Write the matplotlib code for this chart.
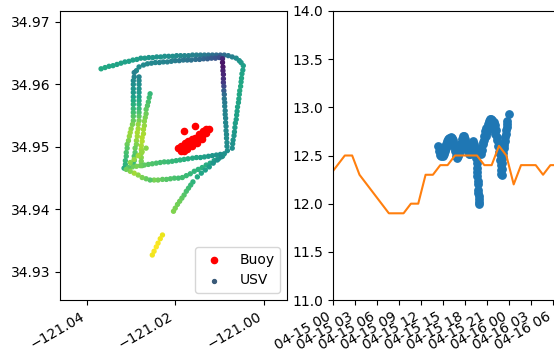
import numpy as np
import pandas as pd
import matplotlib
matplotlib.use("Agg")
import matplotlib.pyplot as plt
import matplotlib.dates as mdates

# ---------------- data ----------------
# Buoy positions
buoy_lon = [-121.0193, -121.0186, -121.0186, -121.0180, -121.0177, -121.0171, -121.0171,
            -121.0164, -121.0161, -121.0157, -121.0155, -121.0148, -121.0146, -121.0139,
            -121.0137, -121.0130, -121.0130, -121.0123, -121.0180, -121.0173, -121.0161,
            -121.0150, -121.0139, -121.0180, -121.0155]
buoy_lat = [34.9498, 34.9501, 34.9494, 34.9499, 34.9506, 34.9502, 34.9509,
            34.9506, 34.9512, 34.9509, 34.9515, 34.9514, 34.9520, 34.9518,
            34.9525, 34.9523, 34.9529, 34.9528, 34.9493, 34.9496, 34.9501,
            34.9506, 34.9512, 34.9526, 34.9533]

# USV track, one list per leg
outer_lon = [-121.0368, -121.0359, -121.0350, -121.0341, -121.0332, -121.0323, -121.0314,
             -121.0305, -121.0296, -121.0287,
             -121.0278, -121.0269, -121.0260, -121.0251, -121.0242, -121.0233, -121.0224,
             -121.0215, -121.0206, -121.0197, -121.0188, -121.0179, -121.0170, -121.0161,
             -121.0152, -121.0143, -121.0134, -121.0125, -121.0116, -121.0107, -121.0098,
             -121.0089, -121.0080, -121.0071, -121.0062, -121.0055, -121.0051, -121.0046,
             -121.0047, -121.0049, -121.0050, -121.0051, -121.0052, -121.0054, -121.0055,
             -121.0056, -121.0057, -121.0059, -121.0060, -121.0061, -121.0062, -121.0064,
             -121.0065, -121.0066, -121.0067, -121.0069, -121.0070, -121.0071]
outer_lat = [34.9625, 34.9627, 34.9629, 34.9630, 34.9632, 34.9634, 34.9636,
             34.9637, 34.9639, 34.9640,
             34.9642, 34.9642, 34.9643, 34.9643, 34.9644, 34.9644, 34.9645,
             34.9645, 34.9645, 34.9646, 34.9646, 34.9646, 34.9646, 34.9647,
             34.9647, 34.9647, 34.9647, 34.9647, 34.9647, 34.9647, 34.9647,
             34.9647, 34.9646, 34.9644, 34.9642, 34.9638, 34.9635, 34.9630,
             34.9623, 34.9617, 34.9610, 34.9604, 34.9597, 34.9590, 34.9584,
             34.9577, 34.9571, 34.9564, 34.9557, 34.9551, 34.9544, 34.9538,
             34.9531, 34.9524, 34.9518, 34.9511, 34.9505, 34.9498]
outer_temp = [12.56, 12.56, 12.55, 12.55, 12.54, 12.54, 12.53, 12.53, 12.52, 12.52,
              12.50, 12.50, 12.49, 12.49, 12.48, 12.48, 12.47, 12.46, 12.46, 12.45,
              12.44, 12.43, 12.42, 12.41, 12.40, 12.39, 12.38, 12.36, 12.34, 12.32, 12.30,
              12.32, 12.36, 12.40, 12.44, 12.47, 12.50, 12.52,
              12.53, 12.54, 12.55, 12.55, 12.56, 12.56, 12.55, 12.55, 12.54, 12.54,
              12.53, 12.53, 12.52, 12.52, 12.51, 12.50, 12.49, 12.48, 12.47, 12.46]

inner_lon = [-121.0288, -121.0282, -121.0272, -121.0263, -121.0254, -121.0245, -121.0236,
             -121.0227, -121.0218, -121.0209, -121.0200, -121.0191, -121.0182, -121.0173,
             -121.0164, -121.0154, -121.0145, -121.0136, -121.0127, -121.0118, -121.0109,
             -121.0100,
             -121.0093, -121.0093, -121.0092, -121.0092, -121.0091, -121.0091, -121.0091,
             -121.0090, -121.0090, -121.0089, -121.0089, -121.0088, -121.0088, -121.0087,
             -121.0087, -121.0086, -121.0086, -121.0085, -121.0085, -121.0084, -121.0084,
             -121.0083, -121.0083, -121.0082]
inner_lat = [34.9622, 34.9628, 34.9631, 34.9633, 34.9634, 34.9635, 34.9635,
             34.9636, 34.9636, 34.9637, 34.9638, 34.9638, 34.9639, 34.9639,
             34.9639, 34.9640, 34.9640, 34.9641, 34.9641, 34.9642, 34.9642,
             34.9643,
             34.9641, 34.9635, 34.9628, 34.9622, 34.9616, 34.9609, 34.9603,
             34.9597, 34.9590, 34.9584, 34.9577, 34.9571, 34.9565, 34.9558,
             34.9552, 34.9546, 34.9539, 34.9533, 34.9526, 34.9520, 34.9514,
             34.9507, 34.9501, 34.9494]
inner_temp = [12.45, 12.45, 12.44, 12.44, 12.43, 12.43, 12.42, 12.42, 12.41, 12.40,
              12.39, 12.38, 12.37, 12.36, 12.35, 12.34, 12.32, 12.30, 12.28, 12.26,
              12.24, 12.22,
              12.10, 12.05, 12.05, 12.08, 12.10, 12.12, 12.15, 12.20, 12.26, 12.32,
              12.36, 12.38, 12.40, 12.41, 12.42, 12.42, 12.43, 12.43, 12.44, 12.44,
              12.45, 12.45, 12.45, 12.46]

left_lon = [-121.0293, -121.0293, -121.0295, -121.0295, -121.0295, -121.0295, -121.0295,
            -121.0295, -121.0295, -121.0295, -121.0295, -121.0295, -121.0295, -121.0297,
            -121.0300, -121.0302, -121.0304, -121.0306, -121.0309, -121.0309, -121.0311,
            -121.0311, -121.0313, -121.0313, -121.0316,
            -121.0282, -121.0282, -121.0282, -121.0282, -121.0282, -121.0282, -121.0282,
            -121.0282, -121.0282, -121.0282, -121.0282, -121.0282, -121.0284, -121.0284,
            -121.0286, -121.0286, -121.0288, -121.0288, -121.0291, -121.0291, -121.0293,
            -121.0293, -121.0295]
left_lat = [34.9619, 34.9612, 34.9606, 34.9600, 34.9593, 34.9587, 34.9580,
            34.9574, 34.9568, 34.9561, 34.9555, 34.9549, 34.9542, 34.9536,
            34.9529, 34.9523, 34.9517, 34.9510, 34.9504, 34.9498, 34.9491,
            34.9485, 34.9478, 34.9472, 34.9466,
            34.9612, 34.9606, 34.9600, 34.9593, 34.9587, 34.9580, 34.9574,
            34.9568, 34.9561, 34.9555, 34.9549, 34.9542, 34.9536, 34.9529,
            34.9523, 34.9517, 34.9510, 34.9504, 34.9498, 34.9491, 34.9485,
            34.9478, 34.9472]
left_temp = [12.40, 12.42, 12.44, 12.46, 12.48, 12.50, 12.53, 12.56, 12.59, 12.62,
             12.65, 12.68, 12.71, 12.74, 12.77, 12.79, 12.78, 12.75, 12.72, 12.69,
             12.66, 12.64, 12.62, 12.60, 12.58,
             12.42, 12.44, 12.46, 12.48, 12.50, 12.53, 12.56, 12.59, 12.62, 12.66,
             12.70, 12.74, 12.78, 12.80, 12.81, 12.80, 12.78, 12.75, 12.72, 12.69,
             12.67, 12.65, 12.63]

spike_lon = [-121.0257, -121.0259, -121.0261, -121.0263, -121.0266, -121.0266, -121.0268,
             -121.0270, -121.0270, -121.0272, -121.0272, -121.0275, -121.0275, -121.0277,
             -121.0277, -121.0277, -121.0277, -121.0277, -121.0275]
spike_lat = [34.9585, 34.9579, 34.9572, 34.9566, 34.9560, 34.9553, 34.9547,
             34.9541, 34.9534, 34.9528, 34.9521, 34.9515, 34.9509, 34.9502,
             34.9496, 34.9490, 34.9483, 34.9477, 34.9470]
spike_temp = [12.62, 12.64, 12.66, 12.68, 12.70, 12.72, 12.74, 12.76, 12.78, 12.80,
              12.81, 12.82, 12.82, 12.81, 12.80, 12.78, 12.76, 12.74, 12.71]

bottom_lon = [-121.0089, -121.0098, -121.0107, -121.0116, -121.0125, -121.0134, -121.0143,
              -121.0152, -121.0161, -121.0171, -121.0180, -121.0189, -121.0198, -121.0207,
              -121.0216, -121.0225, -121.0234, -121.0243, -121.0252, -121.0261, -121.0270,
              -121.0279, -121.0288, -121.0297, -121.0306,
              -121.0093, -121.0102, -121.0112, -121.0121, -121.0130, -121.0139, -121.0148,
              -121.0157, -121.0166, -121.0175, -121.0184, -121.0193, -121.0202, -121.0211,
              -121.0220, -121.0229, -121.0239, -121.0248,
              -121.0302, -121.0293, -121.0284, -121.0275, -121.0266,
              -121.0257, -121.0266, -121.0275, -121.0284, -121.0293, -121.0302, -121.0311]
bottom_lat = [34.9489, 34.9488, 34.9487, 34.9486, 34.9485, 34.9484, 34.9483,
              34.9483, 34.9482, 34.9481, 34.9480, 34.9479, 34.9478, 34.9477,
              34.9476, 34.9476, 34.9475, 34.9474, 34.9473, 34.9472, 34.9471,
              34.9470, 34.9469, 34.9468, 34.9467,
              34.9485, 34.9481, 34.9478, 34.9474, 34.9471, 34.9467, 34.9464,
              34.9461, 34.9457, 34.9454, 34.9451, 34.9450, 34.9450, 34.9449,
              34.9448, 34.9448, 34.9447, 34.9447,
              34.9475, 34.9480, 34.9486, 34.9492, 34.9498,
              34.9447, 34.9449, 34.9451, 34.9455, 34.9458, 34.9461, 34.9464]
bottom_temp = [12.46, 12.47, 12.48, 12.49, 12.50, 12.52, 12.53, 12.55, 12.56, 12.58,
               12.59, 12.60, 12.61, 12.62, 12.63, 12.64, 12.65, 12.66, 12.67, 12.68,
               12.70, 12.72, 12.74, 12.72, 12.68,
               12.50, 12.52, 12.54, 12.56, 12.58, 12.59, 12.60, 12.61, 12.62, 12.63,
               12.64, 12.65, 12.66, 12.67, 12.68, 12.70, 12.72, 12.74,
               12.76, 12.78, 12.80, 12.78, 12.76,
               12.68, 12.71, 12.74, 12.77, 12.80, 12.76, 12.72]

tail_lon = [-121.0096, -121.0105, -121.0114, -121.0123, -121.0132, -121.0141, -121.0150,
            -121.0160, -121.0165, -121.0170, -121.0175, -121.0180, -121.0185, -121.0190,
            -121.0195, -121.0200, -121.0204,
            -121.0229, -121.0234, -121.0239, -121.0243, -121.0248, -121.0252]
tail_lat = [34.9484, 34.9479, 34.9474, 34.9468, 34.9463, 34.9458, 34.9452,
            34.9444, 34.9439, 34.9434, 34.9429, 34.9423, 34.9418, 34.9413,
            34.9408, 34.9402, 34.9397,
            34.9359, 34.9353, 34.9346, 34.9340, 34.9333, 34.9327]
tail_temp = [12.45, 12.47, 12.49, 12.51, 12.53, 12.55, 12.57, 12.60, 12.62, 12.64,
             12.66, 12.68, 12.70, 12.72, 12.73, 12.74, 12.75,
             12.90, 12.91, 12.92, 12.93, 12.92, 12.91]

# USV temperature vs. time (minutes after 2019-04-15 00:00)
usv_minute = [864, 868, 873, 878, 883, 888, 893, 898, 903, 908, 913, 918, 923, 928,
              933, 938, 943, 948, 953, 958, 963, 968, 973, 978, 983, 988, 993, 998,
              1003, 1008, 1013, 1018, 1023, 1028, 1033, 1038, 1043, 1048, 1053, 1058,
              1063, 1068, 1073, 1078, 1083, 1088, 1093, 1098, 1103, 1108, 1113, 1118,
              1123, 1128, 1133, 1138, 1143, 1148, 1153, 1158, 1163, 1168, 1173, 1176,
              1178, 1180, 1182, 1184, 1186, 1188, 1190, 1192, 1194, 1196, 1198,
              1210, 1215, 1220, 1225, 1230, 1235, 1240, 1245, 1250, 1255, 1260, 1265,
              1270, 1275, 1280, 1285, 1290, 1295, 1300, 1305, 1310, 1315, 1320, 1325,
              1330, 1335, 1340, 1345, 1350, 1355, 1360, 1365, 1370, 1373, 1376, 1378,
              1380, 1383, 1386, 1389, 1393, 1397, 1401, 1405, 1409, 1413, 1417, 1421,
              1425, 1428, 1438]
usv_sst = [12.60, 12.55, 12.57, 12.51, 12.55, 12.49, 12.54, 12.50, 12.56, 12.52, 12.59,
           12.55, 12.62, 12.58, 12.65, 12.60, 12.67, 12.62, 12.68, 12.63, 12.69, 12.64,
           12.68, 12.63, 12.66, 12.60, 12.62, 12.55, 12.57, 12.50, 12.52, 12.47, 12.51,
           12.49, 12.56, 12.54, 12.62, 12.59, 12.67, 12.63, 12.70, 12.65, 12.70, 12.64,
           12.67, 12.61, 12.63, 12.57, 12.59, 12.55, 12.52, 12.55, 12.52, 12.57, 12.55,
           12.62, 12.58, 12.65, 12.60, 12.62, 12.56, 12.52, 12.47, 12.42, 12.37, 12.33,
           12.29, 12.24, 12.20, 12.14, 12.11, 12.08, 12.05, 12.02, 12.00,
           12.52, 12.58, 12.56, 12.64, 12.62, 12.70, 12.66, 12.75, 12.70, 12.79, 12.74,
           12.83, 12.77, 12.86, 12.80, 12.88, 12.82, 12.88, 12.82, 12.87, 12.80, 12.85,
           12.77, 12.82, 12.72, 12.76, 12.66, 12.69, 12.60, 12.62, 12.54, 12.52, 12.45,
           12.40, 12.35, 12.31, 12.30, 12.36, 12.42, 12.48, 12.53, 12.58, 12.61, 12.65,
           12.69, 12.72, 12.76, 12.80, 12.83, 12.86, 12.93]

# hourly reference temperature (orange line)
ref_time = ['2019-04-14 23:39', '2019-04-15 00:39', '2019-04-15 01:39', '2019-04-15 02:39',
            '2019-04-15 03:39', '2019-04-15 04:39', '2019-04-15 05:39', '2019-04-15 06:39',
            '2019-04-15 07:39', '2019-04-15 08:39', '2019-04-15 09:39', '2019-04-15 10:39',
            '2019-04-15 11:39', '2019-04-15 12:39', '2019-04-15 13:39', '2019-04-15 14:39',
            '2019-04-15 15:39', '2019-04-15 16:39', '2019-04-15 17:39', '2019-04-15 18:39',
            '2019-04-15 19:39', '2019-04-15 20:39', '2019-04-15 21:39', '2019-04-15 22:39',
            '2019-04-15 23:39', '2019-04-16 00:39', '2019-04-16 01:39', '2019-04-16 02:39',
            '2019-04-16 03:39', '2019-04-16 04:39', '2019-04-16 05:39', '2019-04-16 06:39']
ref_sst = [12.3, 12.4, 12.5, 12.5, 12.3, 12.2, 12.1, 12.0, 11.9, 11.9, 11.9, 12.0, 12.0,
           12.3, 12.3, 12.4, 12.4, 12.5, 12.5, 12.5, 12.5, 12.4, 12.4, 12.6, 12.5, 12.2,
           12.4, 12.4, 12.4, 12.3, 12.4, 12.4]

# ---------------- plot ----------------
usv_lon = np.concatenate([outer_lon, inner_lon, left_lon, spike_lon, bottom_lon, tail_lon])
usv_lat = np.concatenate([outer_lat, inner_lat, left_lat, spike_lat, bottom_lat, tail_lat])
usv_temp = np.concatenate([outer_temp, inner_temp, left_temp, spike_temp, bottom_temp, tail_temp])

t0 = pd.Timestamp('2019-04-15 00:00')
usv_time = t0 + pd.to_timedelta(usv_minute, unit='min')
ref_dt = pd.to_datetime(ref_time)

fig = plt.figure(figsize=(5.54, 3.56), dpi=100)
ax1 = fig.add_axes([60/554, 56/356, 227/554, 289/356])
ax2 = fig.add_axes([332.7/554, 56/356, 227/554, 289/356])

ax1.scatter(buoy_lon, buoy_lat, c='red', s=20, label='Buoy')
ax1.scatter(usv_lon, usv_lat, c=usv_temp, cmap='viridis', vmin=12.0, vmax=12.93,
            s=8, label='USV')
ax1.set_xlim(-121.0461, -120.9947)
ax1.set_ylim(34.9255, 34.97175)
ax1.set_xticks([-121.04, -121.02, -121.00])
ax1.set_yticks([34.93, 34.94, 34.95, 34.96, 34.97])
ax1.ticklabel_format(useOffset=False)
leg = ax1.legend(loc='lower right')
usv_handle = leg.legend_handles[1]
usv_handle.set_array(None)
usv_handle.set_facecolor('#3a5a78')
usv_handle.set_edgecolor('#3a5a78')

ax2.scatter(usv_time, usv_sst, s=28, color='C0')
ax2.plot(ref_dt, ref_sst, color='C1')
ax2.set_ylim(11.0, 14.0)
ax2.set_yticks([11.0, 11.5, 12.0, 12.5, 13.0, 13.5, 14.0])
ax2.set_xlim(pd.Timestamp('2019-04-15 00:00'), pd.Timestamp('2019-04-16 06:55'))
ax2.xaxis.set_major_locator(mdates.HourLocator(byhour=range(0, 24, 3)))
ax2.xaxis.set_major_formatter(mdates.DateFormatter('%m-%d %H'))

for ax in (ax1, ax2):
    for lab in ax.get_xticklabels():
        lab.set_rotation(30)
        lab.set_ha('right')

fig.savefig('out.png', dpi=100)
